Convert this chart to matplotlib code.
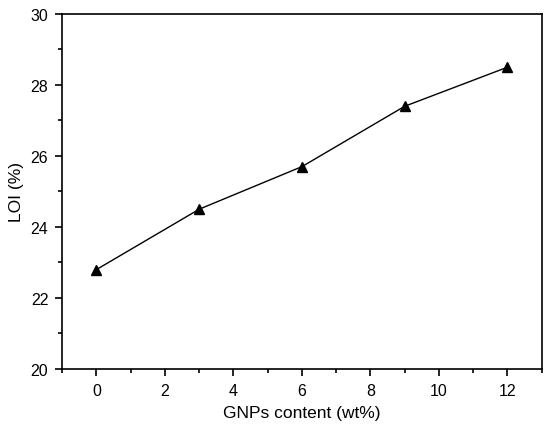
import matplotlib
matplotlib.use("Agg")
import matplotlib.pyplot as plt
from matplotlib.ticker import MultipleLocator

plt.rcParams['font.family'] = ['Liberation Sans', 'DejaVu Sans']

gnps = [0, 3, 6, 9, 12]
loi = [22.8, 24.5, 25.7, 27.4, 28.5]

fig = plt.figure(figsize=(5.5, 4.27), dpi=100)
ax = fig.add_axes([0.113, 0.1335, 0.872, 0.8315])

ax.plot(gnps, loi, color='black', lw=1.0, marker='^', ms=7.5,
        markerfacecolor='black', markeredgecolor='black')

ax.set_xlim(-1, 13)
ax.set_ylim(20, 30)
ax.xaxis.set_major_locator(MultipleLocator(2))
ax.xaxis.set_minor_locator(MultipleLocator(1))
ax.yaxis.set_major_locator(MultipleLocator(2))
ax.yaxis.set_minor_locator(MultipleLocator(1))
ax.tick_params(which='both', direction='out', top=False, right=False,
               labelsize=11.5, width=1.2, pad=5)
ax.tick_params(which='major', length=5)
ax.tick_params(which='minor', length=3)
for s in ax.spines.values():
    s.set_linewidth(1.2)

ax.set_xlabel('GNPs content (wt%)', fontsize=12.5, labelpad=5)
ax.set_ylabel('LOI (%)', fontsize=12.5, labelpad=5)

fig.savefig('out.png', dpi=100)
